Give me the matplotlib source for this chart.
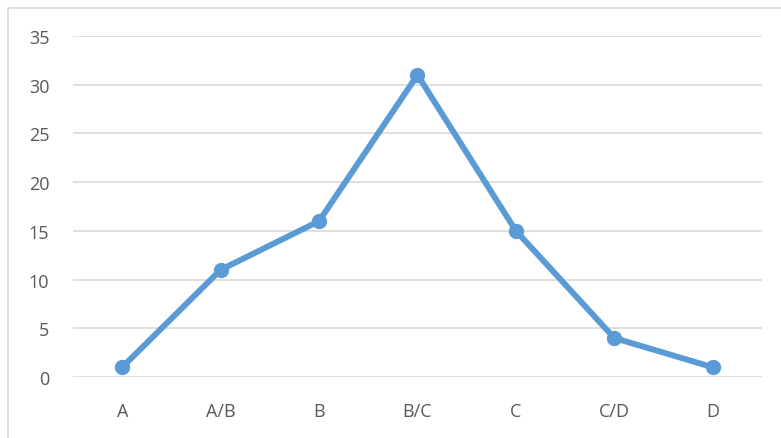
import matplotlib.pyplot as plt
from matplotlib.patches import Rectangle

# chart data
categories = ["A", "A/B", "B", "B/C", "C", "C/D", "D"]
values = [1, 11, 16, 31, 15, 4, 1]
yticks = [0, 5, 10, 15, 20, 25, 30, 35]

plt.rcParams['font.family'] = ['Open Sans', 'DejaVu Sans']

fig = plt.figure(figsize=(7.81, 4.39), dpi=100)
ax = fig.add_axes([73 / 781, 1 - 378 / 439, (762 - 73) / 781, (378 - 37) / 439])

# outer chart frame, like the excel chart area
fig.patches.append(Rectangle((8 / 781, -0.05), 1.0, 1 - 9 / 439 + 0.05,
                             transform=fig.transFigure, fill=False,
                             edgecolor='#d9d9d9', linewidth=1.2))

x = list(range(len(categories)))
ax.plot(x, values, color='#5b9bd5', linewidth=4.3, marker='o', markersize=10,
        solid_capstyle='round', zorder=3)

ax.set_xlim(-0.5, len(categories) - 0.5)
ax.set_ylim(0, 35)
ax.set_yticks(yticks)
ax.set_xticks(x)
ax.set_xticklabels(categories)
ax.grid(axis='y', color='#d9d9d9', linewidth=1.2)
ax.set_axisbelow(True)
for s in ax.spines.values():
    s.set_visible(False)
ax.tick_params(length=0, labelsize=13, colors='#595959')
ax.tick_params(axis='y', pad=17)
ax.tick_params(axis='x', pad=18)
for line in ax.lines:
    line.set_clip_on(False)

fig.savefig("out.png", dpi=100)
